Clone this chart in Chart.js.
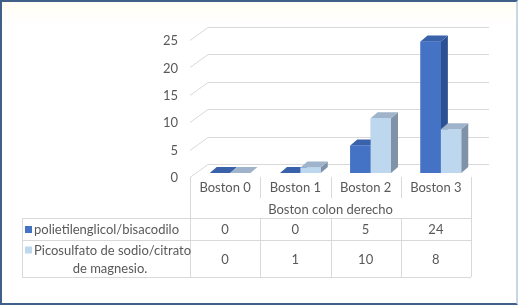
<!DOCTYPE html>
<html>
<head>
<meta charset="utf-8">
<script src="https://cdn.jsdelivr.net/npm/chart.js@4.4.0/dist/chart.umd.min.js"></script>
<style>
  html, body { margin: 0; padding: 0; background: #fff; }
  #box { position: relative; width: 518px; height: 305px; background: linear-gradient(#fffcf2, #ffffff 24px); }
  #frame { position: absolute; left: 0; top: 0; width: 518px; height: 305px; box-sizing: border-box;
           border: 2px solid #3f6189; border-right-color: #c8d6e6; pointer-events: none; }
  canvas { position: absolute; left: 0; top: 0; }
</style>
</head>
<body>
<div id="box">
  <canvas id="chart" width="518" height="305"></canvas>
  <div id="frame"></div>
</div>
<script>
var categories = ['Boston 0', 'Boston 1', 'Boston 2', 'Boston 3'];
var axisTitle = 'Boston colon derecho';
var seriesNames = ['polietilenglicol/bisacodilo', 'Picosulfato de sodio/citrato de magnesio.'];
var seriesRows = [['polietilenglicol/bisacodilo'], ['Picosulfato de sodio/citrato', 'de magnesio.']];
var polietilenglicol = [0, 0, 5, 24];
var picosulfato = [0, 1, 10, 8];
var yTicks = [0, 5, 10, 15, 20, 25];

var FONT = 'Lato, "Open Sans", sans-serif';
var TEXT = '#595959';
var GRID = '#d9d9d9';
var frontCol = ['#4472c4', '#bdd7ee'];
var topCol = ['#3a62ab', '#9fb3ca'];
var sideCol = ['#2c5192', '#8092a8'];
var DX = 7, DY = -6;     // bar depth
var SHIFT = 5;           // bars sit slightly right of the table columns

// back wall gridlines with the slanted floor edge
var wallGrid = {
  id: 'wallGrid',
  beforeDatasetsDraw: function (chart) {
    var ctx = chart.ctx, ys = chart.scales.y, a = chart.chartArea;
    var fx = a.left - SHIFT, bx = fx + 18, rx = a.right + 13;
    ctx.save();
    ctx.strokeStyle = GRID;
    ctx.lineWidth = 1;
    yTicks.forEach(function (v) {
      var y = Math.round(ys.getPixelForValue(v)) + 0.5;
      ctx.beginPath();
      ctx.moveTo(fx, y + 4);
      ctx.lineTo(bx, y - 9);
      ctx.lineTo(rx, y - 9);
      ctx.stroke();
    });
    ctx.restore();
  }
};

// top and side faces, redrawn front faces in the right order
var bars3d = {
  id: 'bars3d',
  afterDatasetsDraw: function (chart) {
    var ctx = chart.ctx;
    ctx.save();
    for (var d = 0; d < chart.data.datasets.length; d++) {
      var meta = chart.getDatasetMeta(d);
      meta.data.forEach(function (bar) {
        var p = bar.getProps(['x', 'y', 'base', 'width'], true);
        var l = p.x - p.width / 2, r = p.x + p.width / 2;
        ctx.fillStyle = sideCol[d];
        ctx.beginPath();
        ctx.moveTo(r, p.y); ctx.lineTo(r + DX, p.y + DY);
        ctx.lineTo(r + DX, p.base + DY); ctx.lineTo(r, p.base);
        ctx.closePath(); ctx.fill();
        ctx.fillStyle = topCol[d];
        ctx.beginPath();
        ctx.moveTo(l, p.y); ctx.lineTo(l + DX, p.y + DY);
        ctx.lineTo(r + DX, p.y + DY); ctx.lineTo(r, p.y);
        ctx.closePath(); ctx.fill();
        bar.draw(ctx);
      });
    }
    ctx.restore();
  }
};

// data table under the axis, with the axis title centred on it
var dataTable = {
  id: 'dataTable',
  afterDraw: function (chart) {
    var ctx = chart.ctx, xs = chart.scales.x, a = chart.chartArea;
    var colW = (a.right - a.left) / categories.length;
    var L = a.left - SHIFT, R = a.right - SHIFT, tl = 22;
    var rows = [218, 240, 277], top = 177, catB = 198;
    var series = [polietilenglicol, picosulfato];
    ctx.save();
    ctx.strokeStyle = GRID;
    ctx.lineWidth = 1;
    ctx.beginPath();
    rows.forEach(function (y) { ctx.moveTo(tl, y + 0.5); ctx.lineTo(R, y + 0.5); });
    ctx.moveTo(tl + 0.5, rows[0]); ctx.lineTo(tl + 0.5, rows[2]);
    ctx.moveTo(L + 0.5, top); ctx.lineTo(L + 0.5, rows[2]);
    ctx.moveTo(R + 0.5, top); ctx.lineTo(R + 0.5, rows[2]);
    for (var i = 1; i < categories.length; i++) {
      var x = Math.round(L + i * colW) + 0.5;
      ctx.moveTo(x, top); ctx.lineTo(x, catB);
      ctx.moveTo(x, rows[0]); ctx.lineTo(x, rows[2]);
    }
    ctx.stroke();

    ctx.font = '13px ' + FONT;
    ctx.fillStyle = TEXT;
    ctx.textBaseline = 'middle';
    ctx.textAlign = 'center';
    ctx.fillText(axisTitle, (L + R) / 2, 210);

    series.forEach(function (vals, s) {
      var cy = (rows[s] + rows[s + 1]) / 2 + 1;
      var lines = seriesRows[s];
      var ky = lines.length === 1 ? cy : cy - 9;
      vals.forEach(function (v, i) {
        ctx.textAlign = 'center';
        ctx.fillText(String(v), xs.getPixelForValue(i) - SHIFT, cy);
      });
      ctx.fillStyle = frontCol[s];
      ctx.fillRect(25, ky - 4, 7, 7);
      ctx.fillStyle = TEXT;
      ctx.textAlign = 'left';
      ctx.fillText(lines[0], 34, ky);
      if (lines.length > 1) {
        ctx.textAlign = 'center';
        ctx.fillText(lines[1], 110, cy + 9);
      }
    });
    ctx.restore();
  }
};

new Chart(document.getElementById('chart'), {
  type: 'bar',
  data: {
    labels: categories,
    datasets: [{
      label: seriesNames[0],
      data: polietilenglicol,
      backgroundColor: frontCol[0],
      categoryPercentage: 0.58,
      barPercentage: 1
    }, {
      label: seriesNames[1],
      data: picosulfato,
      backgroundColor: frontCol[1],
      categoryPercentage: 0.58,
      barPercentage: 1
    }]
  },
  options: {
    responsive: false,
    animation: false,
    devicePixelRatio: 1,
    layout: { padding: { left: 0, top: 36, right: 42, bottom: 87 } },
    plugins: { legend: { display: false }, tooltip: { enabled: false } },
    scales: {
      x: {
        grid: { display: false, drawTicks: false },
        border: { display: false },
        ticks: { color: TEXT, font: { family: FONT, size: 13 }, labelOffset: -SHIFT, padding: 7 },
        afterFit: function (s) { s.height = 45; }
      },
      y: {
        min: 0,
        max: 25,
        grid: { display: false, drawTicks: false },
        border: { display: false },
        ticks: { stepSize: 5, color: TEXT, font: { family: FONT, size: 13 }, labelOffset: 5, padding: 17 },
        afterFit: function (s) { s.width = 195; }
      }
    }
  },
  plugins: [wallGrid, bars3d, dataTable]
});
</script>
</body>
</html>
